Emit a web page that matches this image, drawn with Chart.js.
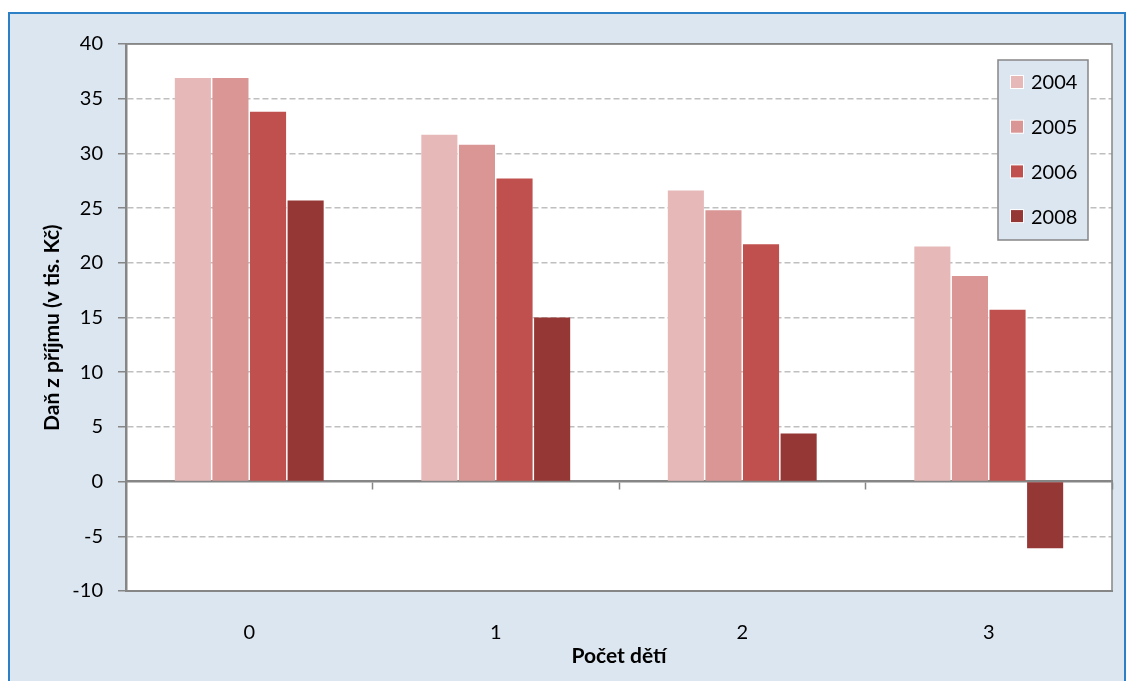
<!DOCTYPE html>
<html><head><meta charset="utf-8">
<script src="https://cdn.jsdelivr.net/npm/chart.js@4.4.1/dist/chart.umd.min.js"></script>
<style>html,body{margin:0;padding:0;background:#fff;overflow:hidden}canvas{display:block}</style>
</head><body>
<canvas id="c" width="1127" height="681"></canvas>
<script>
const categories = ['0', '1', '2', '3'];
const seriesLabels = ['2004', '2005', '2006', '2008'];
const values2004 = [36.9, 31.7, 26.6, 21.5];
const values2005 = [36.9, 30.8, 24.8, 18.8];
const values2006 = [33.8, 27.7, 21.7, 15.7];
const values2008 = [25.7, 15.0, 4.4, -6.1];
const seriesColors = ['#E6B9B8', '#D99694', '#C0504D', '#953735'];
const yMin = -10, yMax = 40, yStep = 5;
const yTitle = 'Daň z příjmu (v tis. Kč)';
const xTitle = 'Počet dětí';

const FONT = 'Lato';
const AXIS = '#868686';

const framePlugin = {
  id: 'frame',
  beforeDraw(chart) {
    const ctx = chart.ctx, ca = chart.chartArea;
    ctx.save();
    ctx.fillStyle = '#fff';
    ctx.fillRect(0, 0, chart.width, chart.height);
    ctx.fillStyle = '#DCE6F1';
    ctx.fillRect(9, 13, chart.width - 11, chart.height - 13);
    ctx.strokeStyle = '#2E80C6';
    ctx.lineWidth = 2;
    ctx.beginPath();
    ctx.moveTo(9, chart.height);
    ctx.lineTo(9, 13);
    ctx.lineTo(chart.width - 2, 13);
    ctx.lineTo(chart.width - 2, chart.height);
    ctx.stroke();
    ctx.fillStyle = '#fff';
    ctx.fillRect(ca.left, ca.top, ca.right - ca.left, ca.bottom - ca.top);
    ctx.restore();
  },
  afterDraw(chart) {
    const ctx = chart.ctx, ca = chart.chartArea;
    ctx.save();
    ctx.strokeStyle = AXIS;
    ctx.lineWidth = 1.5;
    ctx.beginPath();
    ctx.moveTo(ca.left, ca.top);
    ctx.lineTo(ca.right, ca.top);
    ctx.lineTo(ca.right, ca.bottom);
    ctx.stroke();
    // legend
    const w = 90, h = 180;
    const x = ca.right - 24 - w, y = ca.top + 16;
    ctx.fillStyle = '#DCE6F1';
    ctx.fillRect(x, y, w, h);
    ctx.strokeStyle = AXIS;
    ctx.lineWidth = 1.5;
    ctx.strokeRect(x, y, w, h);
    ctx.font = '20px ' + FONT;
    ctx.textBaseline = 'middle';
    ctx.textAlign = 'left';
    chart.data.datasets.forEach((ds, i) => {
      const cy = y + 22 + i * 44.7;
      ctx.fillStyle = '#fff';
      ctx.fillRect(x + 12, cy - 7, 14, 14);
      ctx.fillStyle = ds.backgroundColor;
      ctx.fillRect(x + 13, cy - 6, 12, 12);
      ctx.fillStyle = '#000';
      ctx.fillText(ds.label, x + 33, cy + 1);
    });
    ctx.restore();
  }
};

const seriesValues = [values2004, values2005, values2006, values2008];

new Chart(document.getElementById('c'), {
  type: 'bar',
  data: {
    labels: categories,
    datasets: seriesLabels.map((l, i) => ({
      label: l,
      data: seriesValues[i],
      backgroundColor: seriesColors[i],
      borderWidth: 0,
      categoryPercentage: 0.61,
      barPercentage: 0.96
    }))
  },
  options: {
    responsive: false,
    animation: false,
    layout: { padding: { left: 0, top: 44, right: 15, bottom: 0 } },
    plugins: { legend: { display: false }, tooltip: { enabled: false } },
    scales: {
      x: {
        type: 'category',
        position: 'bottom',
        grid: { display: false, drawTicks: false },
        border: { display: true, color: AXIS, width: 2 },
        ticks: { color: '#000', font: { family: FONT, size: 20 }, padding: 30 },
        title: { display: true, text: xTitle, color: '#000', font: { family: FONT, size: 21, weight: 'bold' }, padding: { top: 0, bottom: 12 } },
        afterFit(s) { s.height = 90; }
      },
      x2: {
        type: 'category',
        labels: categories,
        position: { y: 0 },
        offset: true,
        z: 1,
        grid: {
          offset: true,
          drawOnChartArea: false,
          drawTicks: true,
          tickLength: 7,
          tickWidth: 1.5,
          tickColor: (c) => (c.index === 0 || c.index === categories.length) ? 'rgba(0,0,0,0)' : AXIS,
          color: AXIS
        },
        border: { display: true, color: AXIS, width: 2.5 },
        ticks: { display: false }
      },
      y: {
        min: yMin, max: yMax,
        ticks: { stepSize: yStep, color: '#000', font: { family: FONT, size: 20 }, padding: 15 },
        grid: {
          color: (c) => {
            const v = c.tick ? c.tick.value : null;
            if (v === 0) return 'rgba(0,0,0,0)';
            if (v === yMin || v === yMax) return AXIS;
            return '#BFBFBF';
          },
          lineWidth: 1.5,
          tickLength: 8,
          tickWidth: 1.5,
          tickColor: AXIS
        },
        border: {
          display: true, color: AXIS, width: 2.5,
          dash: (c) => {
            const v = c.tick ? c.tick.value : null;
            return (v === yMin || v === yMax || v === null) ? [] : [6, 3];
          }
        },
        title: { display: true, text: yTitle + '\u00A0\u00A0\u00A0\u00A0', color: '#000', font: { family: FONT, size: 21, weight: 'bold' }, padding: { top: 40, bottom: 0 } },
        afterFit(s) { s.width = 126; }
      }
    }
  },
  plugins: [framePlugin]
});
</script>
</body></html>
